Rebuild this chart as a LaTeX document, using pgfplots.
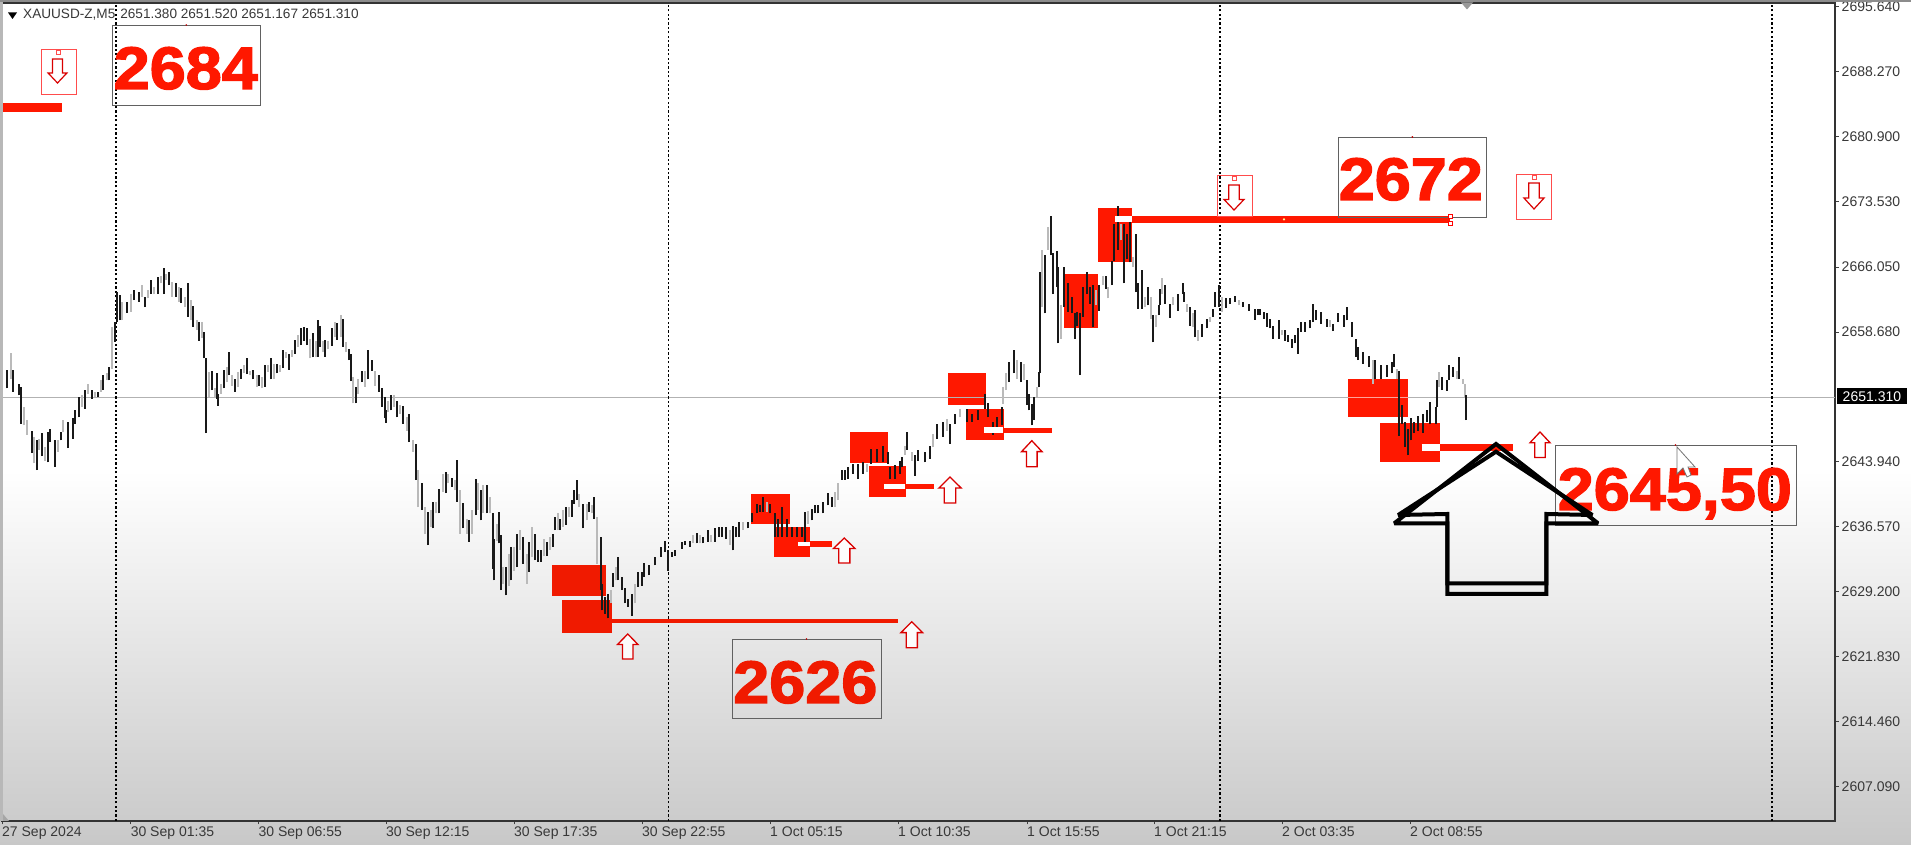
\documentclass[border=0pt]{standalone}
\usepackage{pgfplots}
\usepackage{pgfplotstable}
\usepackage{fontspec}
\pgfplotsset{compat=1.18}
\setmainfont{Liberation Sans}
\newfontfamily\heavy[FakeBold=2.2]{Liberation Sans Bold}
\definecolor{zr}{RGB}{255,24,0}
\definecolor{zd}{RGB}{240,26,0}
\pgfplotstableread{
x lo hi
2.3 2650.6 2653.4
7.3 2652.3 2654.4
13.3 2651.9 2654.4
19 2651.5 2652.8
20.7 2648.3 2652.5
31.7 2645 2647.5
36.7 2643 2646.4
42.3 2644.6 2647.2
48.3 2643.9 2647.3
50 2646.2 2647.7
55 2643.4 2646.4
61 2646.4 2647.3
67.7 2645.5 2648.5
72.7 2646.6 2648.9
75 2648.3 2649.8
79.3 2649 2651.3
85.3 2650 2652.1
91.7 2651.1 2652.1
97.7 2651.3 2651.9
103.3 2652.1 2653.8
109.3 2653.2 2654.7
115.3 2657.6 2659.8
116.7 2659.8 2663.2
120 2660 2662.9
127.3 2660.9 2662.1
134 2662.3 2663.4
139 2662.1 2663.2
145.3 2661.5 2662.7
151.3 2663 2664.6
158 2663 2664.9
163.7 2663 2666
169 2664 2665.5
175.7 2662.7 2664.2
181.3 2662 2663.7
188 2660.4 2664.3
193.3 2659.3 2661.6
199.3 2657.7 2659.8
204.3 2655.7 2658.7
206 2647.2 2655.7
211.7 2652.1 2654.3
216.7 2651.1 2654
218.3 2650.3 2651.7
223.7 2652.3 2654.4
228.7 2653.8 2656.4
235.3 2651.9 2653.4
241.3 2653.4 2654.5
247 2653.9 2655.7
253.3 2653.3 2654.4
259.3 2652.6 2653.8
265 2652.5 2654.9
271 2653.3 2655.7
277.3 2654 2655.1
283.3 2654.6 2656.6
289.3 2654.4 2656.2
295 2656.2 2657.8
301 2657.2 2659.1
304 2657.7 2659.3
307 2657.2 2659.1
313 2655.8 2658.6
318.3 2655.9 2660.1
320 2657 2659.4
325 2655.9 2657.8
331.7 2657.1 2659.1
337.3 2657.8 2659.7
343.3 2657 2660.2
349 2655.5 2656.8
351 2653.1 2656.2
355.7 2650.6 2652.5
361.7 2653 2654.3
367.7 2653.3 2656.6
371.7 2654.3 2655.5
379.3 2651.9 2653.8
381.7 2650.2 2652.3
385 2648.9 2651.3
386 2648.4 2649.8
391.3 2649.8 2651.5
397.3 2649 2650.9
403.3 2648.3 2650.3
409.3 2646.2 2649.4
415.7 2641.9 2646
421.7 2638.5 2641.5
427.7 2634.5 2638.3
433.3 2636.4 2639.4
439.3 2638.1 2640.9
446 2640.4 2642.8
451.7 2641.1 2642.1
457.3 2639.4 2644.2
463.3 2636.4 2639.3
469.3 2634.9 2637.4
475.7 2637.9 2642
481 2637.3 2640.7
487.3 2638.1 2641.3
493.3 2631.8 2638.1
494.3 2630.5 2635.2
499 2634.7 2638.3
500.7 2629.4 2635.6
506 2628.8 2632
511.3 2630.5 2634.3
517.3 2632 2635.8
522.7 2632.4 2635.4
529.3 2631.5 2634.9
535 2632.8 2635.8
538.3 2632.6 2633.9
541.3 2632.6 2633.9
547.3 2633.3 2634.9
552.7 2634.3 2635.8
555 2636.2 2637.7
560 2636.2 2637.5
565.7 2636.8 2638.8
571.7 2637.7 2639.6
574 2639.2 2640.7
576.7 2639.6 2641.9
583.3 2636.4 2639.2
589.3 2638.3 2639.4
594.3 2637.5 2640
600.7 2629.4 2635.4
602.3 2627.1 2630.1
605.3 2626.7 2628.6
607.7 2626.2 2629
613.3 2629.8 2631.3
618.3 2630.5 2633.2
621.7 2629.4 2630.9
625 2627.9 2629.6
628.3 2627.5 2628.4
631.7 2626.5 2629
638.3 2629.8 2631.5
641.7 2629.9 2631.5
644 2630.9 2632.5
649.3 2631.1 2632.2
655 2632.2 2633.2
661 2633.2 2634.3
665 2633.7 2635
668.3 2631.6 2633.9
671.7 2633.2 2633.7
675 2633.3 2633.9
681.7 2634.1 2634.9
685 2634.5 2635
690 2634.3 2635
696.7 2634.7 2635.9
703.3 2634.7 2635.4
708.3 2634.9 2636.2
715 2634.9 2636.4
719.3 2635.4 2636.6
721.7 2635.4 2636.6
726 2635.2 2636.6
732.7 2633.9 2636.7
736 2635.4 2636.6
739.3 2635.4 2637.1
748.3 2636.4 2637.1
751.7 2637.1 2638.1
756.7 2638.1 2639.2
760 2638.3 2639
763.3 2638.3 2640
770 2638.1 2639.2
775 2635.4 2638.1
778.3 2635.4 2637.5
781.7 2635.4 2638.8
786.7 2635.4 2637.5
791.7 2635.4 2636.6
796.7 2635.4 2636.6
801.7 2635.4 2636.6
805 2634.7 2638.3
811.7 2637.3 2638.6
815 2638.1 2639
818.3 2638.1 2639
823.3 2638.1 2639.4
828.3 2639 2640.4
831.7 2638.8 2640
841.7 2641.9 2643
845 2641.9 2643
848.3 2642 2643.4
853.3 2642.6 2643.7
858.3 2642 2643.7
863.3 2642.6 2643.9
870.7 2643.7 2645.4
876.7 2643.9 2645.4
883.3 2643.9 2645.8
887.7 2643.7 2645.1
890 2642 2643.4
895 2642 2643.6
900 2642.6 2644.1
901.7 2643.4 2644.5
906.7 2645.3 2647.3
915 2642.4 2644.7
918.3 2644.1 2645.3
925 2643.9 2645.1
930 2644.3 2645.8
937.3 2646.6 2648.3
943.3 2646.8 2648.5
950 2646 2648.3
955 2648.3 2649.4
966.7 2648.5 2650
971.7 2648.5 2649.4
978.3 2648.7 2649.8
985 2650 2651.7
988.3 2649 2650.6
992.7 2647 2648.5
996.7 2647.7 2649
1001.7 2648.1 2650.2
1009.3 2653 2655.3
1014.3 2654 2656.7
1021 2653 2655.3
1026.7 2650.4 2653.2
1029.3 2649.8 2651.7
1032.3 2648.1 2650.5
1034 2648.7 2651.3
1039.3 2652.4 2654.1
1040.3 2654 2665.5
1045.3 2660.8 2667.4
1050.7 2667.4 2671.8
1053.3 2663 2667.6
1056.7 2663.8 2667.9
1058.3 2657.4 2666.1
1064 2661.5 2666.1
1068.3 2661 2664.2
1071.7 2660.8 2662.7
1075 2657.9 2660.8
1077.3 2659.4 2661
1080.3 2653.8 2660.8
1082.7 2660.4 2663.8
1087.3 2663 2665.5
1090 2661.9 2663.8
1093.3 2659.2 2664
1099.3 2661.1 2664
1105.7 2663.6 2665.1
1111.7 2664 2666.8
1114.3 2666.8 2671
1118 2668 2673
1123.7 2664.2 2671
1126.7 2667 2669.8
1130 2666.6 2671.7
1135.7 2663.2 2669.8
1138.3 2661.3 2664.2
1141.7 2661.3 2665.7
1147.7 2661.7 2663.8
1153 2657.5 2660.6
1159.3 2660.6 2661.7
1160 2661.7 2663.6
1165 2661.9 2664
1170 2660.3 2661.9
1177.7 2661.1 2663
1182.7 2663 2664.2
1184 2662.1 2663.2
1190 2659.4 2661.5
1194.7 2658.1 2661.2
1201.7 2658.1 2659.6
1206.7 2659.1 2660.2
1213.3 2660.4 2661.3
1215.3 2661.5 2663.2
1219.3 2661.5 2664
1225.7 2661.4 2662.5
1230 2661.9 2662.5
1235 2662.1 2662.8
1243.3 2661.5 2662.1
1249.3 2661.1 2661.9
1255 2660.1 2661.3
1258.3 2660.6 2661.3
1260 2660.6 2661.3
1264 2660.2 2661
1267.3 2659.3 2660.8
1270 2659.1 2660.2
1273.3 2657.9 2659.4
1279 2657.9 2660
1285 2657.7 2658.9
1288.3 2657.6 2658.3
1291.7 2656.9 2657.9
1295 2657.4 2658.3
1298 2656.2 2659.1
1300.7 2658.7 2659.8
1305 2658.7 2659.8
1310 2659.1 2660
1312.7 2659.8 2661.9
1316 2660 2661.2
1321 2659.6 2661
1326.7 2659.3 2660.2
1333.3 2658.8 2659.6
1338.3 2659.8 2660.8
1344.3 2659.3 2660.6
1347.3 2660 2661.5
1351.7 2658.1 2659.8
1356 2655.9 2657.9
1358.3 2655.5 2657
1362.7 2655.1 2656.4
1369 2654.7 2656
1375.3 2653.4 2655.5
1381 2653.4 2654.9
1387.3 2653.6 2654.9
1391.7 2654 2655.3
1394 2654.7 2656.2
1399 2646.9 2654.3
1401.7 2648.3 2650.4
1405 2645.6 2648.5
1408.3 2644.7 2647.7
1411 2646.4 2648.9
1414 2647.2 2648.5
1417.7 2647.5 2649.2
1423.3 2647.2 2649.4
1427.3 2648.5 2649.8
1430 2648.3 2650.8
1435.7 2648.3 2650.2
1436.7 2650.2 2653.2
1441.7 2652.1 2653.6
1446.7 2652 2653.2
1449.3 2653.2 2654.9
1453.3 2653.6 2654.7
1459.3 2653.4 2655.8
1466 2648.7 2651.5
}\blackbars
\pgfplotstableread{
x lo hi
10.7 2653.4 2656.3
24 2648.1 2650.2
26.7 2647 2648.7
34.3 2643.8 2646.8
39.3 2645.3 2646.6
45 2644.1 2645.6
58.3 2645.1 2646.4
63.3 2647.3 2648.7
82.3 2650.2 2651.5
88.3 2651.7 2652.8
95 2651.3 2651.9
101 2651.9 2653.2
106.7 2653.2 2654
112.3 2654.5 2659.2
122.3 2660 2662.1
130.7 2661 2663
142.3 2662.7 2664
148.3 2662.5 2663.4
154.3 2663 2663.8
160.7 2664.2 2665.1
166 2664.6 2665.3
172.3 2662.7 2664.4
179 2662.1 2663.8
185 2661.5 2662.7
190.7 2660 2662.3
196.7 2658.9 2660
202.3 2658 2659.8
209.3 2651.3 2654.2
215 2651.3 2652.3
220.7 2651.7 2652.8
226.7 2653 2654.7
231.7 2652.6 2653.8
238.3 2652.5 2654.2
244.3 2654 2654.9
250 2653.8 2654.3
256.7 2652.5 2653.8
262.3 2652.3 2653.6
268 2654.2 2654.9
274 2653.4 2655.1
280 2654.2 2654.9
286 2655.7 2656.4
292.3 2655.9 2656.6
297.7 2657 2658.3
310 2655.7 2657.9
316 2655.8 2657.7
322.7 2656.4 2657.7
328.3 2656.8 2657.7
335 2658.1 2659.8
340.7 2658.1 2660.6
346 2656.4 2657.6
353.3 2650.6 2653.6
358.3 2651.7 2653.4
365 2652.5 2654.3
375 2652.6 2654.3
388.3 2649.6 2650.9
394 2650.2 2651.5
400 2649.4 2650.4
406.7 2647.5 2649
412.7 2645.1 2646.4
418.3 2638.8 2643
424.7 2635.8 2638.8
430.7 2636.6 2638.5
436 2638.1 2639.4
442.7 2640.5 2642.6
448.3 2641.5 2642.6
455 2640.7 2641.9
460 2635.8 2640.7
466.7 2635.8 2637.5
472 2635.8 2638.5
477.7 2638.5 2641.5
483.3 2638.1 2641.3
490 2638.1 2640
496.7 2635 2636.9
503.3 2630.1 2632
508.7 2629.9 2633.5
514.3 2631.6 2634.3
520.3 2634 2636.2
526.7 2630.1 2633.5
532.3 2633.2 2636.6
544 2633.3 2635.2
550 2634 2635.4
557.7 2636.2 2638.1
563.3 2636.6 2638.5
569 2637.7 2638.8
579.3 2638.8 2640.3
586.7 2637.3 2639.2
591.7 2638.1 2639
597.3 2632.4 2637.7
610.7 2627.9 2629.4
615.7 2630.5 2632
635 2627.9 2630.1
693.3 2634.7 2635.6
700 2634.7 2635.6
710.7 2634.9 2635.6
730 2634.5 2636.2
743.3 2636.2 2637.1
766.7 2638.3 2639.4
808.3 2636.9 2638.4
835 2638.8 2640.5
838.3 2639.6 2641.5
866.7 2642.8 2643.7
905 2644.7 2645.8
911.7 2644.1 2645.1
933.3 2645.6 2647.1
946.7 2647.5 2648.8
960 2649 2650
1003.3 2650.5 2652.4
1006 2652.1 2654
1016.7 2653.4 2655.5
1024 2653.2 2655.1
1036.7 2651.3 2652.4
1042 2661.5 2668
1048.3 2668 2670.6
1061 2657.9 2661.7
1096 2661.7 2663.4
1103.3 2664 2665.1
1108.3 2662.5 2663.8
1121 2669.1 2671
1132.7 2666.1 2667.2
1145 2661.5 2662.7
1150.7 2660.2 2662.7
1155.7 2659.2 2660.6
1162.3 2663 2664.8
1173.3 2661.7 2662.7
1187.3 2661 2661.9
1192.7 2659.2 2660.8
1198.3 2657.7 2658.9
1210 2659.8 2660.4
1222 2661 2662.7
1239.3 2661.7 2662.3
1281.7 2658.3 2658.9
1330 2659.3 2660
1372.7 2652.8 2655.5
1397.3 2653.4 2654.5
1439.3 2652.4 2654.1
1456.7 2653.4 2654.3
1462.7 2652.8 2653.4
1464.7 2651.3 2652.8
}\graybars
\newcommand{\zone}[5]{\addplot[fill=#5,draw=none] coordinates {(#1,#3)(#2,#3)(#2,#4)(#1,#4)} -- cycle;}
\newcommand{\level}[5]{\addplot[#5,line width=#4pt] coordinates {(#1,#3)(#2,#3)};}
\newcommand{\uparr}[4]{\draw[red!85!black,line width=1.3pt,fill=white,fill opacity=.9]
  ({(#1+#2)/2},#3)--(#2,{#3+.42*(#4-#3)})--({#2-.24*(#2-#1)},{#3+.42*(#4-#3)})--({#2-.24*(#2-#1)},#4)--({#1+.24*(#2-#1)},#4)--({#1+.24*(#2-#1)},{#3+.42*(#4-#3)})--(#1,{#3+.42*(#4-#3)})--cycle;}
\newcommand{\dnarr}[4]{\draw[red!85!black,line width=1.2pt]
  ({(#1+#2)/2},#4)--(#2,{#4-.42*(#4-#3)})--({#2-.24*(#2-#1)},{#4-.42*(#4-#3)})--({#2-.24*(#2-#1)},#3)--({#1+.24*(#2-#1)},#3)--({#1+.24*(#2-#1)},{#4-.42*(#4-#3)})--(#1,{#4-.42*(#4-#3)})--cycle;}
\newcommand{\smallbox}[4]{\draw[red!70,line width=1pt] (#1,#3) rectangle (#2,#4);
  \draw[red!70,line width=.8pt,fill=white] ({(#1+#2)/2-2},#3) rectangle ({(#1+#2)/2+2},{#3+4});}
\newcommand{\bigbox}[4]{\draw[black!62,line width=1pt] (#1,#3) rectangle (#2,#4);
  \fill[red!75!black] ({(#1+#2)/2},{#3-1}) circle (.9pt);}
\newcommand{\bignum}[4]{\node[anchor=base west,inner sep=0pt,text=#3,xscale=1.08] at (#1,#2) {\fontsize{60}{60}\heavy #4};}
\begin{document}
\begin{tikzpicture}[x=1pt,y=1pt]
\path[use as bounding box] (0,0) rectangle (1911,845);
\fill[white] (0,0) rectangle (1911,845);
\shade[top color=white,bottom color={rgb,255:red,200;green,200;blue,200}] (0,0) rectangle (1911,375);
\begin{axis}[
  at={(2pt,24pt)},anchor=south west,scale only axis,
  width=1833pt,height=818pt,
  xmin=2,xmax=1835,ymin=2603.19,ymax=2696.03,
  axis line style={draw=black!80,line width=1.3pt},
  xtick pos=bottom,ytick pos=right,
  tick align=outside,major tick length=3.5pt,
  tick style={draw=black!75,line width=1pt},
  xtick={2,130.6,258.4,386,514,642,770,898,1027,1154,1282,1410},
  xticklabels={27 Sep 2024,30 Sep 01:35,30 Sep 06:55,30 Sep 12:15,30 Sep 17:35,30 Sep 22:55,1 Oct 05:15,1 Oct 10:35,1 Oct 15:55,1 Oct 21:15,2 Oct 03:35,2 Oct 08:55},
  ytick={2695.64,2688.27,2680.9,2673.53,2666.05,2658.68,2643.94,2636.57,2629.2,2621.83,2614.46,2607.09},
  yticklabels={2695.640,2688.270,2680.900,2673.530,2666.050,2658.680,2643.940,2636.570,2629.200,2621.830,2614.460,2607.090},
  yticklabel pos=right,
  tick label style={font=\fontsize{14}{14}\selectfont,text=black!78,inner sep=0pt},
  xticklabel style={anchor=north west,yshift=-2.5pt},
  yticklabel style={anchor=west,xshift=3pt},
  clip=true,
]
\zone{552}{606}{2628.76}{2632.28}{zd}
\zone{562}{612}{2624.56}{2628.27}{zd}
\zone{751}{790}{2636.90}{2640.30}{zr}
\zone{774}{810}{2633.18}{2636.59}{zr}
\zone{850}{888}{2643.82}{2647.34}{zr}
\zone{868.6}{906}{2639.96}{2643.48}{zr}
\zone{966}{1004}{2646.43}{2649.91}{zr}
\zone{948}{985.7}{2650.40}{2654.03}{zr}
\zone{1098}{1132}{2666.63}{2672.76}{zr}
\zone{1064}{1097.7}{2659.18}{2665.27}{zr}
\zone{1348}{1408}{2649.07}{2653.35}{zr}
\zone{1380}{1440}{2643.97}{2648.39}{zr}
\addplot[black!30,line width=1pt] coordinates {(2,2651.31)(1835,2651.31)};
\addplot[white!60!zr,line width=.8pt] coordinates {(1348,2651.31)(1408,2651.31)};
% period separators
\addplot[black,line width=1.3pt,dash pattern=on 2.2pt off 2.2pt] coordinates {(116,2603.19)(116,2696.03)};
\addplot[black,line width=1.3pt,dash pattern=on 2.2pt off 2.2pt] coordinates {(668.5,2603.19)(668.5,2696.03)};
\addplot[black,line width=1.3pt,dash pattern=on 2.2pt off 2.2pt] coordinates {(1220,2603.19)(1220,2696.03)};
\addplot[black,line width=1.3pt,dash pattern=on 2.2pt off 2.2pt] coordinates {(1772,2603.19)(1772,2696.03)};
% price bars
\addplot[draw=none,mark=none,error bars/.cd,y dir=plus,y explicit,error mark=none,
  error bar style={solid,line width=2.2pt,draw=black!27}]
  table[x=x,y=lo,y error plus expr=\thisrow{hi}-\thisrow{lo}] {\graybars};
\addplot[draw=none,mark=none,error bars/.cd,y dir=plus,y explicit,error mark=none,
  error bar style={solid,line width=1.9pt,draw=black!90}]
  table[x=x,y=lo,y error plus expr=\thisrow{hi}-\thisrow{lo}] {\blackbars};
% levels
\level{2}{62}{2684.17}{9}{zr}
\level{612}{898}{2625.92}{4}{zd}
\level{810}{832}{2634.63}{5.5}{zr}
\level{798}{810}{2634.63}{4.5}{white}
\level{906}{934}{2641.13}{5}{zr}
\level{884}{905}{2641.13}{5}{white}
\level{1004}{1052}{2647.56}{5}{zr}
\level{984}{1003}{2647.56}{5.5}{white}
\level{1132}{1450}{2671.47}{6.7}{zr}
\level{1115}{1131.5}{2671.47}{6}{white}
\level{1440}{1513}{2645.56}{6.7}{zr}
\level{1421.7}{1440}{2645.56}{6.5}{white}
\end{axis}
\begin{scope}[shift={(0,845)},y=-1pt,x=1pt]
\fill[black!28] (0,0) rectangle (3,821);
\fill[black!45] (0,0) rectangle (1911,1.8);
\fill[black!40] (1461,2.5)--(1473,2.5)--(1467,9.5)--cycle;
\fill[black!35] (3,814)--(3,821)--(9,821)--cycle;
\fill[black] (8,12.5)--(17,12.5)--(12.5,19)--cycle;
\node[anchor=west,inner sep=0pt,text=black!78] at (23,15) {\fontsize{13.6}{14}\selectfont XAUUSD-Z,M5\hspace{5pt}2651.380 2651.520 2651.167 2651.310};
\fill[black] (1837,388.5) rectangle (1907,404.5);
\node[anchor=west,inner sep=0pt,text=white] at (1842.5,396.5) {\fontsize{14}{14}\selectfont 2651.310};
\bigbox{112.6}{260}{26}{105.7}
\bignum{113.5}{89}{zr}{2684}
\smallbox{41}{76}{50}{95}
\dnarr{48}{67}{59}{83}
\bigbox{732}{881}{640}{719}
\bignum{733}{703}{zd}{2626}
\bigbox{1338}{1486.7}{138}{217.3}
\bignum{1338.5}{200}{zr}{2672}
\smallbox{1217}{1252}{176}{217}
\dnarr{1224}{1244}{185}{210}
\smallbox{1516.7}{1551.7}{175}{220}
\dnarr{1524}{1544}{183}{209}
\bigbox{1555}{1796}{446}{525.7}
\node[anchor=base west,inner sep=0pt,text=zr,xscale=1.08] at (1557.5,510) {\fontsize{60}{60}\heavy 2645,50};
\draw[red,fill=white,line width=.7pt] (1448,214.5) rectangle (1452,218);
\draw[red,fill=white,line width=.7pt] (1448,221.5) rectangle (1452,225);
\fill[white!60!yellow] (1284,219.4) circle (1.2pt);
\uparr{617.5}{638}{634}{659}
\uparr{901}{922.5}{621.7}{647.7}
\uparr{833.5}{855}{538}{563}
\uparr{939}{961}{477}{503}
\uparr{1021.6}{1042}{440.7}{466.7}
\uparr{1530}{1550}{432}{457.5}
\draw[black!55,fill=white,line width=.8pt] (1677,447)--(1677,474)--(1683,468)--(1687,477)--(1691,475)--(1688,467)--(1695,467)--cycle;
\draw[black,line width=4pt,miter limit=3] (1496,444)--(1394.3,523.3)--(1447.3,523.3)--(1447.3,594)--(1546.3,594)--(1546.3,523.3)--(1598,523.3)--cycle;
\draw[black,line width=4pt,miter limit=3] (1496,451.7)--(1398.2,515)--(1447.3,514)--(1447.3,583.3)--(1546.3,583.3)--(1546.3,514)--(1592.3,515)--cycle;
\end{scope}
\end{tikzpicture}
\end{document}
